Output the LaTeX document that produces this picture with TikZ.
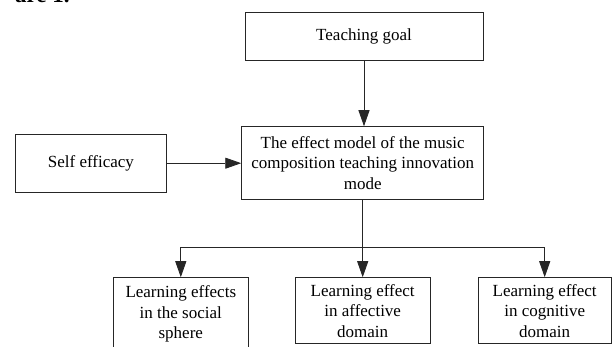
\documentclass[tikz,border=0pt]{standalone}
\usepackage{fontspec}
\setmainfont{Liberation Serif}
\usetikzlibrary{arrows.meta}
\tikzset{
  box/.style={draw=black!85, line width=0.9pt, inner sep=0pt, align=center,
    font=\fontsize{17}{20.5}\selectfont},
  conn/.style={draw=black!85, line width=0.9pt},
  arr/.style={conn, -{Triangle[length=16pt,width=11pt]}}
}
\begin{document}
\begin{tikzpicture}[x=1pt,y=-1pt]
\useasboundingbox (0,0) rectangle (614,347);
% cut-off text at the top edge
\node[anchor=base west, inner sep=0pt, font=\fontsize{23}{26}\selectfont\bfseries] (cut) at (15,3) {are 1.};
\node[box, minimum width=238pt, minimum height=48.3pt] (goal) at (364,36.2) {Teaching goal};
\node[box, minimum width=242pt, minimum height=72.6pt] (model) at (362.7,163) {The effect model of the music\\composition teaching innovation\\mode};
\node[box, minimum width=150.6pt, minimum height=57.7pt] (self) at (90.9,163.2) {Self efficacy};
\node[box, minimum width=135pt, minimum height=73.2pt] (b1) at (180.8,314.3) {Learning effects\\in the social\\sphere};
\node[box, minimum width=134.7pt, minimum height=66pt] (b2) at (362.7,310.7) {Learning effect\\in affective\\domain};
\node[box, minimum width=133.3pt, minimum height=66pt] (b3) at (544.7,310.7) {Learning effect\\in cognitive\\domain};
\coordinate (bus) at (362.7,247.7);
\draw[arr] (goal.south) -- (goal.south |- model.north);
\draw[arr] (self.east) -- (self.east -| model.west);
\draw[arr] (model.south) -- (b2.north);
\draw[arr] (bus) -| (b1.north);
\draw[arr] (bus) -| (b3.north);
\end{tikzpicture}
\end{document}
